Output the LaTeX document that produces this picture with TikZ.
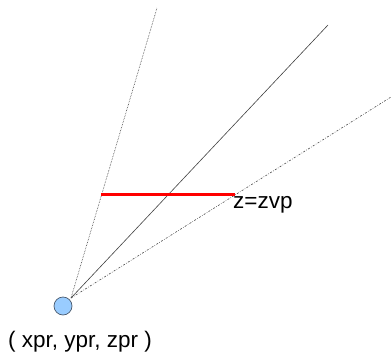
\documentclass[tikz,border=0pt]{standalone}
\usepackage{fontspec}
\setmainfont{Liberation Sans}
\usetikzlibrary{calc}
\definecolor{eyeblue}{HTML}{99CCFF}
\definecolor{eyeedge}{HTML}{4A5A6E}
\definecolor{planered}{HTML}{FF0000}

\begin{document}
\begin{tikzpicture}[x=1pt,y=-1pt,font=\fontsize{22.5}{26}\selectfont]
\useasboundingbox (0,0) rectangle (391,359);
% viewpoint and frustum
\coordinate (apex) at (71,298);
\coordinate (topend) at (157,8);
\coordinate (midend) at (328,25);
\coordinate (lowend) at (391,97);
\draw[black!80,densely dotted,line width=.6pt] (apex) -- (topend);
\draw[black!75,line width=.6pt] (apex) -- (midend);
\draw[black!70,line width=.6pt,dash pattern=on 2pt off 1.5pt on .6pt off 1.5pt] (apex) -- (lowend);
% view plane
\coordinate (pl) at (101,194);
\coordinate (pr) at (235,194);
\draw[planered,line width=3pt] (pl) -- (pr);
\node[anchor=base west,inner sep=0pt] (zlab) at (233,208) {z=zvp};
% eye
\node[circle,draw=eyeedge,fill=eyeblue,line width=.7pt,minimum size=18pt,inner sep=0pt] (eye) at (63,306) {};
\node[anchor=base west,inner sep=0pt] (eyelab) at (8,347) {( xpr, ypr, zpr )};
\end{tikzpicture}
\end{document}
